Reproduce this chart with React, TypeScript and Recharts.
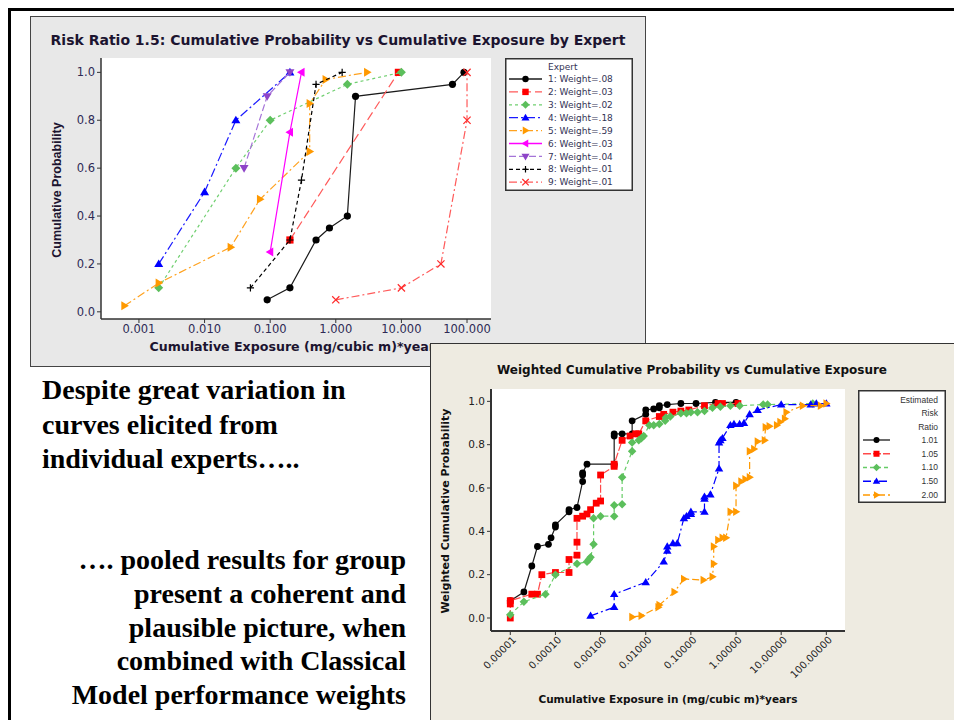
import React from 'react';
import { ScatterChart, Scatter, XAxis, YAxis, CartesianGrid } from 'recharts';

type Pt = [number, number];
type Kind = 'circle' | 'square' | 'diamond' | 'up' | 'right' | 'left' | 'down' | 'plus' | 'cross';

// Risk ratio 1.5 — one elicited curve per expert: [cumulative exposure, cumulative probability]
const expert1: Pt[] = [[0.09, 0.05], [0.2, 0.1], [0.5, 0.3], [0.8, 0.35], [1.5, 0.4], [2, 0.9], [60, 0.95], [90, 1.0]];
const expert2: Pt[] = [[0.2, 0.3], [9, 1.0]];
const expert3: Pt[] = [[0.002, 0.1], [0.03, 0.6], [0.1, 0.8], [1.5, 0.95], [10, 1.0]];
const expert4: Pt[] = [[0.002, 0.2], [0.01, 0.5], [0.03, 0.8], [0.2, 1.0]];
const expert5: Pt[] = [[0.0006, 0.025], [0.002, 0.12], [0.025, 0.27], [0.07, 0.47], [0.4, 0.67], [0.4, 0.87], [0.7, 0.97], [3, 1.0]];
const expert6: Pt[] = [[0.1, 0.25], [0.2, 0.75], [0.3, 1.0]];
const expert7: Pt[] = [[0.04, 0.6], [0.09, 0.9], [0.2, 1.0]];
const expert8: Pt[] = [[0.05, 0.1], [0.2, 0.3], [0.3, 0.55], [0.5, 0.95], [1.25, 1.0]];
const expert9: Pt[] = [[1, 0.05], [10, 0.1], [40, 0.2], [100, 0.8], [100, 1.0]];
const expertWeights = ['.08', '.03', '.02', '.18', '.59', '.03', '.04', '.01', '.01'];
const expertTicks = [0.001, 0.01, 0.1, 1, 10, 100];

// Pooled (performance-weighted) curves per estimated risk ratio
const rr101: Pt[] = [[1e-5, 0.08], [2e-5, 0.12], [3e-5, 0.24], [4e-5, 0.33], [7e-5, 0.34], [8e-5, 0.37], [1e-4, 0.42], [1e-4, 0.43], [2e-4, 0.49], [2e-4, 0.5], [3e-4, 0.51], [4e-4, 0.63], [4e-4, 0.66], [4e-4, 0.67], [5e-4, 0.71], [2e-3, 0.71], [2e-3, 0.84], [2e-3, 0.85], [3e-3, 0.85], [5e-3, 0.85], [5e-3, 0.91], [0.01, 0.94], [0.01, 0.96], [0.015, 0.965], [0.02, 0.97], [0.02, 0.98], [0.03, 0.985], [0.06, 0.99], [0.13, 0.99], [0.35, 0.995], [1, 0.995]];
const rr105: Pt[] = [[1e-5, 0], [1e-5, 0.065], [1e-5, 0.08], [3e-5, 0.11], [4e-5, 0.11], [5e-5, 0.2], [1e-4, 0.21], [2e-4, 0.21], [2e-4, 0.27], [3e-4, 0.29], [3e-4, 0.35], [3e-4, 0.46], [4e-4, 0.47], [5e-4, 0.48], [6e-4, 0.5], [8e-4, 0.53], [1e-3, 0.54], [1e-3, 0.66], [2e-3, 0.7], [2e-3, 0.71], [3e-3, 0.82], [4.5e-3, 0.84], [6e-3, 0.85], [7e-3, 0.85], [0.01, 0.91], [0.02, 0.93], [0.025, 0.94], [0.04, 0.95], [0.06, 0.955], [0.09, 0.96], [0.2, 0.98], [0.4, 0.99], [0.5, 0.99], [1.1, 0.99]];
const rr110: Pt[] = [[1e-5, 0.015], [2e-5, 0.075], [6e-5, 0.11], [1e-4, 0.2], [3e-4, 0.25], [5e-4, 0.26], [5.5e-4, 0.27], [6e-4, 0.28], [7e-4, 0.34], [7e-4, 0.46], [1e-3, 0.47], [2e-3, 0.47], [2e-3, 0.52], [3e-3, 0.525], [3e-3, 0.65], [5e-3, 0.77], [5e-3, 0.81], [7e-3, 0.82], [8e-3, 0.83], [9e-3, 0.84], [0.012, 0.89], [0.015, 0.89], [0.02, 0.895], [0.027, 0.91], [0.028, 0.925], [0.035, 0.93], [0.06, 0.945], [0.08, 0.945], [0.1, 0.95], [0.14, 0.95], [0.2, 0.955], [0.3, 0.97], [0.45, 0.975], [0.75, 0.98], [1.2, 0.98], [4, 0.985], [5, 0.985], [50, 0.99]];
const rr150: Pt[] = [[6e-4, 0.01], [2e-3, 0.05], [2e-3, 0.11], [0.01, 0.165], [0.025, 0.26], [0.03, 0.31], [0.03, 0.33], [0.04, 0.345], [0.05, 0.345], [0.07, 0.46], [0.08, 0.47], [0.1, 0.48], [0.1, 0.49], [0.2, 0.49], [0.2, 0.55], [0.2, 0.56], [0.27, 0.57], [0.42, 0.69], [0.42, 0.81], [0.45, 0.82], [0.5, 0.83], [0.75, 0.89], [0.9, 0.895], [1.2, 0.895], [1.5, 0.9], [2, 0.94], [3, 0.96], [10, 0.985], [45, 0.985], [60, 0.99], [100, 0.99]];
const rr200: Pt[] = [[0.005, 0.005], [0.008, 0.01], [0.019, 0.05], [0.02, 0.06], [0.043, 0.12], [0.07, 0.18], [0.19, 0.175], [0.3, 0.19], [0.32, 0.25], [0.32, 0.33], [0.4, 0.36], [0.5, 0.37], [0.6, 0.37], [0.75, 0.49], [1, 0.49], [1, 0.61], [1.3, 0.63], [1.6, 0.64], [2, 0.65], [2, 0.77], [2.5, 0.78], [3, 0.815], [4.3, 0.82], [4.5, 0.88], [5.5, 0.885], [8, 0.89], [9.5, 0.905], [12, 0.92], [13, 0.95], [30, 0.98], [75, 0.98], [100, 0.99]];
const riskRatios = ['1.01', '1.05', '1.10', '1.50', '2.00'];
const pooledTicks = [1e-5, 1e-4, 1e-3, 1e-2, 0.1, 1, 10, 100];

const probTicks = [0, 0.2, 0.4, 0.6, 0.8, 1];

const SANS = '"DejaVu Sans", Verdana, sans-serif';
const ARIAL = '"Liberation Sans", Arial, sans-serif';
const SERIF = '"Liberation Serif", "Times New Roman", serif';

interface Style { color: string; line: string; dash: string; kind: Kind }

const expertStyles: Style[] = [
  { color: '#000000', line: '#1a1a1a', dash: '', kind: 'circle' },
  { color: '#ff0000', line: '#ff5a5a', dash: '9 4', kind: 'square' },
  { color: '#5cbf5c', line: '#70cf70', dash: '3 3', kind: 'diamond' },
  { color: '#0000ff', line: '#1a1aff', dash: '9 3 2 3', kind: 'up' },
  { color: '#ff9900', line: '#ffa21f', dash: '8 3 2 3', kind: 'right' },
  { color: '#ff00ff', line: '#ff00ff', dash: '', kind: 'left' },
  { color: '#8e44c8', line: '#a574d8', dash: '7 3', kind: 'down' },
  { color: '#000000', line: '#000000', dash: '4 3', kind: 'plus' },
  { color: '#ff2a2a', line: '#ff5a5a', dash: '8 3 2 3', kind: 'cross' },
];
const pooledStyles: Style[] = [
  { color: '#000000', line: '#1a1a1a', dash: '', kind: 'circle' },
  { color: '#ff0000', line: '#ff4a4a', dash: '8 2', kind: 'square' },
  { color: '#5cbf5c', line: '#66cc66', dash: '4 3', kind: 'diamond' },
  { color: '#0000ff', line: '#0000ff', dash: '8 3 2 3', kind: 'up' },
  { color: '#ff9900', line: '#ff9900', dash: '7 3 2 3', kind: 'right' },
];

const expertData = [expert1, expert2, expert3, expert4, expert5, expert6, expert7, expert8, expert9];
const pooledData = [rr101, rr105, rr110, rr150, rr200];

const toXY = (pts: Pt[]) => pts.map(([x, y]) => ({ x, y }));

const Marker = ({ kind, cx, cy, r, color }: { kind: Kind; cx: number; cy: number; r: number; color: string }) => {
  const k = r * 1.25;
  switch (kind) {
    case 'circle':
      return <circle cx={cx} cy={cy} r={r} fill={color} />;
    case 'square':
      return <rect x={cx - r} y={cy - r} width={2 * r} height={2 * r} fill={color} />;
    case 'diamond':
      return <polygon points={`${cx},${cy - k} ${cx + k},${cy} ${cx},${cy + k} ${cx - k},${cy}`} fill={color} />;
    case 'up':
      return <polygon points={`${cx},${cy - k} ${cx + k},${cy + r * 0.85} ${cx - k},${cy + r * 0.85}`} fill={color} />;
    case 'down':
      return <polygon points={`${cx},${cy + k} ${cx + k},${cy - r * 0.85} ${cx - k},${cy - r * 0.85}`} fill={color} />;
    case 'right':
      return <polygon points={`${cx + k},${cy} ${cx - r * 0.85},${cy - k} ${cx - r * 0.85},${cy + k}`} fill={color} />;
    case 'left':
      return <polygon points={`${cx - k},${cy} ${cx + r * 0.85},${cy - k} ${cx + r * 0.85},${cy + k}`} fill={color} />;
    case 'plus':
      return <path d={`M${cx - r},${cy}H${cx + r}M${cx},${cy - r}V${cy + r}`} stroke={color} strokeWidth={1.2} />;
    case 'cross':
      return <path d={`M${cx - r},${cy - r}L${cx + r},${cy + r}M${cx + r},${cy - r}L${cx - r},${cy + r}`} stroke={color} strokeWidth={1.2} />;
  }
  return null;
};

const seriesNodes = (data: Pt[][], styles: Style[], r: number, width: number) =>
  data.map((pts, i) => {
    const s = styles[i];
    return (
      <Scatter
        key={i}
        data={toXY(pts)}
        isAnimationActive={false}
        lineType="joint"
        line={{ stroke: s.line, strokeWidth: width, strokeDasharray: s.dash || undefined, fill: 'none' }}
        shape={(p: any) => <Marker kind={s.kind} cx={p.cx} cy={p.cy} r={r} color={s.color} />}
      />
    );
  });

// frame around the plot area: extra axes on top/right draw the remaining edges
const frameAxes = (stroke: string, w: number) => [
  <XAxis key="t" xAxisId="top" orientation="top" type="number" domain={[0, 1]} height={0} tick={false} tickLine={false} axisLine={{ stroke, strokeWidth: w }} />,
  <YAxis key="r" yAxisId="right" orientation="right" type="number" domain={[0, 1]} width={0} tick={false} tickLine={false} axisLine={{ stroke, strokeWidth: w }} />,
];

const PooledTick = ({ x, y, payload }: any) => (
  <text
    transform={`translate(${x + 4},${y + 1}) rotate(-45)`}
    textAnchor="end"
    dy="0.35em"
    fontSize={10}
    fontFamily={SANS}
    fill="#222"
  >
    {Number(payload.value).toFixed(5)}
  </text>
);

const LegendRow = ({ s, y, x0, x1, r }: { s: Style; y: number; x0: number; x1: number; r: number }) => (
  <g>
    <line x1={x0} x2={x1} y1={y} y2={y} stroke={s.line} strokeWidth={1.3} strokeDasharray={s.dash || undefined} />
    <Marker kind={s.kind} cx={(x0 + x1) / 2} cy={y} r={r} color={s.color} />
  </g>
);

const ExpertPanel = () => (
  <div style={{ position: 'absolute', left: 30, top: 16, width: 616, height: 351, background: '#e8e8e8', boxShadow: 'inset 0 0 0 1px #444' }}>
    <div style={{ position: 'absolute', left: 0, width: 616, top: 16, textAlign: 'center', fontFamily: SANS, fontWeight: 'bold', fontSize: 14, color: '#1c1430', whiteSpace: 'nowrap' }}>
      Risk Ratio 1.5: Cumulative Probability vs Cumulative Exposure by Expert
    </div>
    <ScatterChart width={616} height={351} margin={{ top: 42, right: 155, bottom: 18, left: 21 }} style={{ position: 'absolute', left: 0, top: 0 }}>
      <CartesianGrid horizontal={false} vertical={false} fill="#ffffff" />
      <XAxis
        dataKey="x"
        type="number"
        scale="log"
        domain={[2.64e-4, 232]}
        allowDataOverflow
        ticks={expertTicks}
        interval={0}
        height={30}
        tickSize={4}
        tickFormatter={(v: number) => v.toFixed(3)}
        tick={{ fill: '#2e2a55', fontSize: 11.5, fontFamily: SANS }}
        axisLine={{ stroke: '#333', strokeWidth: 1.5 }}
        tickLine={{ stroke: '#333' }}
      />
      <YAxis
        dataKey="y"
        type="number"
        domain={[-0.03, 1.06]}
        allowDataOverflow
        ticks={probTicks}
        interval={0}
        width={50}
        tickSize={4}
        tickFormatter={(v: number) => v.toFixed(1)}
        tick={{ fill: '#2e2a55', fontSize: 11.5, fontFamily: SANS }}
        axisLine={{ stroke: '#333', strokeWidth: 1.5 }}
        tickLine={{ stroke: '#333' }}
      />
      {frameAxes('#333', 1.5)}
      {seriesNodes(expertData, expertStyles, 3.6, 1.2)}
    </ScatterChart>
    <div style={{ position: 'absolute', left: 71, width: 390, top: 323, textAlign: 'center', fontFamily: SANS, fontWeight: 'bold', fontSize: 12.6, color: '#1c1430', whiteSpace: 'nowrap' }}>
      Cumulative Exposure (mg/cubic m)*years
    </div>
    <div style={{ position: 'absolute', left: 27, top: 174, width: 0, height: 0 }}>
      <div style={{ position: 'absolute', transform: 'translate(-50%,-50%) rotate(-90deg)', whiteSpace: 'nowrap', fontFamily: ARIAL, fontWeight: 'bold', fontSize: 12.5, color: '#1c1430' }}>
        Cumulative Probability
      </div>
    </div>
    <svg width={128} height={133} style={{ position: 'absolute', left: 475, top: 42, background: '#fff' }}>
      <rect x={0.75} y={0.75} width={126.5} height={131.5} fill="none" stroke="#333" strokeWidth={1.5} />
      <text x={43} y={12} fontSize={9} fontFamily={SANS} fill="#333355">Expert</text>
      {expertStyles.map((s, i) => (
        <g key={i}>
          <LegendRow s={s} y={21 + i * 12.9} x0={4} x1={37} r={3.2} />
          <text x={43} y={21 + i * 12.9} dy="0.35em" fontSize={9} fontFamily={SANS} fill="#333355">
            {`${i + 1}: Weight=${expertWeights[i]}`}
          </text>
        </g>
      ))}
    </svg>
  </div>
);

const PooledPanel = () => (
  <div style={{ position: 'absolute', left: 430, top: 343, width: 524, height: 377, background: '#eeebe1', boxShadow: 'inset 1px 1px 0 #333' }}>
    <div style={{ position: 'absolute', left: 0, width: 524, top: 20, textAlign: 'center', fontFamily: SANS, fontWeight: 'bold', fontSize: 12, color: '#111', whiteSpace: 'nowrap' }}>
      Weighted Cumulative Probability vs Cumulative Exposure
    </div>
    <ScatterChart width={524} height={377} margin={{ top: 46, right: 109, bottom: 29, left: 21 }} style={{ position: 'absolute', left: 0, top: 0 }}>
      <CartesianGrid horizontal={false} vertical={false} fill="#ffffff" />
      <XAxis
        dataKey="x"
        type="number"
        scale="log"
        domain={[3.74e-6, 259]}
        allowDataOverflow
        ticks={pooledTicks}
        interval={0}
        height={60}
        tickSize={4}
        tick={<PooledTick />}
        axisLine={{ stroke: '#333', strokeWidth: 2 }}
        tickLine={{ stroke: '#333' }}
      />
      <YAxis
        dataKey="y"
        type="number"
        domain={[-0.06, 1.057]}
        allowDataOverflow
        ticks={probTicks}
        interval={0}
        width={40}
        tickSize={4}
        tickFormatter={(v: number) => v.toFixed(1)}
        tick={{ fill: '#222', fontSize: 10.5, fontFamily: SANS }}
        axisLine={{ stroke: '#333', strokeWidth: 2 }}
        tickLine={{ stroke: '#333' }}
      />
      {frameAxes('#333', 2)}
      {seriesNodes(pooledData, pooledStyles, 3.4, 1.2)}
    </ScatterChart>
    <div style={{ position: 'absolute', left: 61, width: 354, top: 350, textAlign: 'center', fontFamily: SANS, fontWeight: 'bold', fontSize: 10.5, color: '#111', whiteSpace: 'nowrap' }}>
      Cumulative Exposure in (mg/cubic m)*years
    </div>
    <div style={{ position: 'absolute', left: 15, top: 168, width: 0, height: 0 }}>
      <div style={{ position: 'absolute', transform: 'translate(-50%,-50%) rotate(-90deg)', whiteSpace: 'nowrap', fontFamily: SANS, fontWeight: 'bold', fontSize: 11, color: '#111' }}>
        Weighted Cumulative Probability
      </div>
    </div>
    <svg width={88} height={113} style={{ position: 'absolute', left: 428, top: 47, background: '#fff' }}>
      <rect x={0.75} y={0.75} width={86.5} height={111.5} fill="none" stroke="#333" strokeWidth={1.5} />
      {['Estimated', 'Risk', 'Ratio'].map((t, i) => (
        <text key={t} x={80} y={10 + i * 13.4} dy="0.35em" textAnchor="end" fontSize={8.5} fontFamily={ARIAL} fill="#333">{t}</text>
      ))}
      {pooledStyles.map((s, i) => (
        <g key={i}>
          <LegendRow s={s} y={50 + i * 13.75} x0={5} x1={32} r={3} />
          <text x={80} y={50 + i * 13.75} dy="0.35em" textAnchor="end" fontSize={8.5} fontFamily={ARIAL} fill="#333">{riskRatios[i]}</text>
        </g>
      ))}
    </svg>
  </div>
);

const textStyle: React.CSSProperties = { position: 'absolute', fontFamily: SERIF, fontWeight: 'bold', fontSize: 28, color: '#000', whiteSpace: 'nowrap' };

export default function App() {
  return (
    <div style={{ position: 'fixed', left: 0, top: 0, width: 954, height: 720, overflow: 'hidden', background: '#fff' }}>
      <div style={{ position: 'absolute', left: 8, top: 8, width: 946, height: 712, borderTop: '3px solid #000', borderLeft: '3px solid #000', boxSizing: 'border-box' }} />
      <ExpertPanel />
      <div style={{ ...textStyle, left: 42, top: 373, lineHeight: '34.5px' }}>
        Despite great variation in<br />curves elicited from<br />individual experts…..
      </div>
      <div style={{ ...textStyle, right: 954 - 406, top: 543, lineHeight: '33.8px', textAlign: 'right' }}>
        …. pooled results for group<br />present a coherent and<br />plausible picture, when<br />combined with Classical<br />Model performance weights
      </div>
      <PooledPanel />
    </div>
  );
}
